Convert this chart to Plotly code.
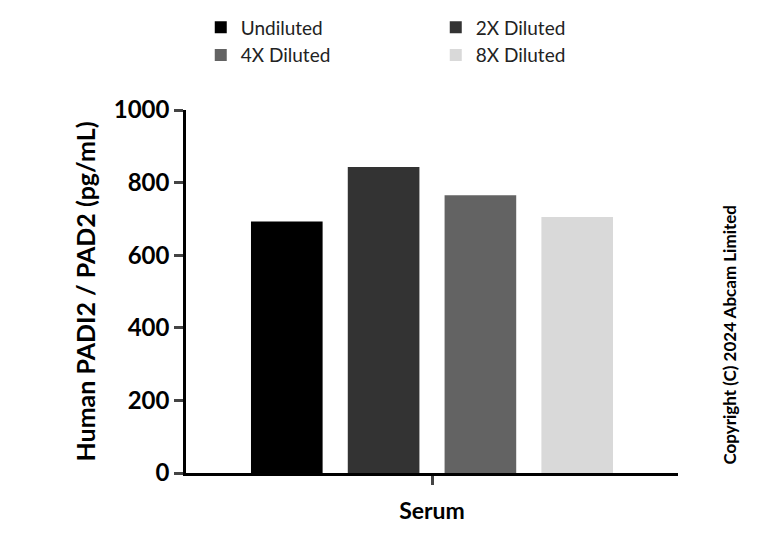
import plotly.graph_objects as go

categories = ["Serum"]
series_names = ["Undiluted", "2X Diluted", "4X Diluted", "8X Diluted"]
series_values = [[693], [843], [765], [705]]
colors = ["#000000", "#333333", "#636363", "#d9d9d9"]
y_ticks = [0, 200, 400, 600, 800, 1000]

fig = go.Figure()
for name, vals, c in zip(series_names, series_values, colors):
    fig.add_trace(go.Bar(x=categories, y=vals, name=name, marker_color=c, marker_line_width=0))

fig.update_layout(
    width=768, height=548, plot_bgcolor="white", paper_bgcolor="white",
    barmode="group", bargap=0.213, bargroupgap=0.26,
    margin=dict(l=178, r=98, t=102, b=83, autoexpand=False),
    font=dict(family="Lato", color="black"),
    legend=dict(orientation="h", x=0.03, y=1.28, xanchor="left", yanchor="top",
                entrywidth=190, font=dict(size=19, color="#222"), traceorder="normal",
                itemsizing="constant"),
    showlegend=True,
)
fig.update_yaxes(range=[0, 1000], tickvals=y_ticks, showgrid=False, zeroline=False, automargin=False,
                 showline=True, linewidth=2.5, linecolor="black", ticks="outside",
                 ticklen=9, tickwidth=2.5, tickfont=dict(size=24, family="Lato", weight="bold"),
                 title=dict(text="Human PADI2 / PAD2 (pg/mL)", font=dict(size=25, weight="bold"), standoff=12))
fig.update_xaxes(showline=True, linewidth=2.5, linecolor="black", ticks="outside", automargin=False,
                 ticklen=9, tickwidth=2.5, showticklabels=False,
                 title=dict(text="Serum", font=dict(size=23, weight="bold"), standoff=20))
fig.add_annotation(text="Copyright (C) 2024 Abcam Limited", textangle=-90, xref="paper", yref="paper",
                   x=1.13, y=0.38, showarrow=False, font=dict(size=17, weight="bold"))
fig.write_html("out.html")
